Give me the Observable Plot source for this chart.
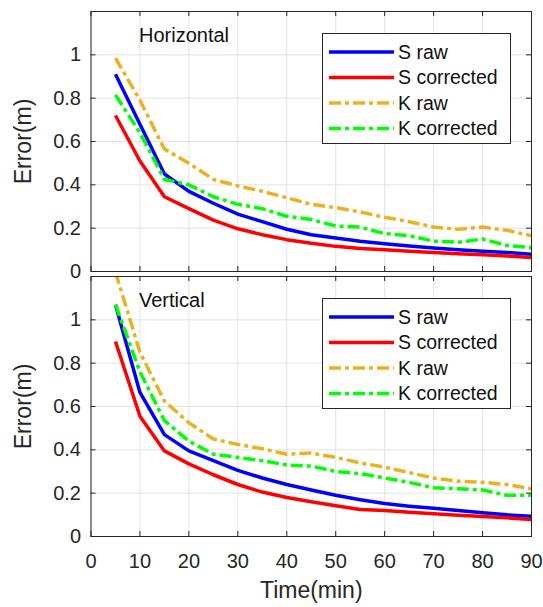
<!DOCTYPE html>
<html>
<head>
<meta charset="utf-8">
<script src="https://cdn.jsdelivr.net/npm/d3@7"></script>
<script src="https://cdn.jsdelivr.net/npm/@observablehq/plot@0.6"></script>
<style>
  body { margin: 0; background: white; }
  #wrap { position: relative; width: 543px; height: 607px; background: white; overflow: hidden; }
</style>
</head>
<body>
<div id="wrap"></div>
<script>
// ---- data ----
const times = [5, 10, 15, 20, 25, 30, 35, 40, 45, 50, 55, 60, 65, 70, 75, 80, 85, 90];
const seriesNames = ["S raw", "S corrected", "K raw", "K corrected"];

const hSraw = [0.91, 0.68, 0.45, 0.37, 0.315, 0.265, 0.23, 0.195, 0.17, 0.155, 0.14, 0.128, 0.118, 0.108, 0.10, 0.094, 0.088, 0.08];
const hScor = [0.72, 0.51, 0.345, 0.29, 0.237, 0.197, 0.17, 0.147, 0.13, 0.116, 0.106, 0.10, 0.094, 0.088, 0.082, 0.077, 0.072, 0.064];
const hKraw = [0.985, 0.79, 0.565, 0.50, 0.425, 0.395, 0.37, 0.34, 0.31, 0.295, 0.275, 0.25, 0.23, 0.205, 0.195, 0.205, 0.19, 0.165];
const hKcor = [0.815, 0.64, 0.425, 0.40, 0.345, 0.31, 0.29, 0.255, 0.24, 0.21, 0.205, 0.175, 0.165, 0.14, 0.135, 0.15, 0.12, 0.11];

const vSraw = [1.07, 0.665, 0.47, 0.395, 0.35, 0.305, 0.27, 0.24, 0.215, 0.19, 0.17, 0.152, 0.14, 0.13, 0.12, 0.11, 0.10, 0.093];
const vScor = [0.90, 0.555, 0.395, 0.335, 0.285, 0.24, 0.205, 0.18, 0.16, 0.142, 0.125, 0.12, 0.112, 0.105, 0.098, 0.092, 0.086, 0.078];
const vKraw = [1.22, 0.85, 0.625, 0.525, 0.45, 0.425, 0.405, 0.38, 0.385, 0.365, 0.34, 0.32, 0.295, 0.27, 0.255, 0.25, 0.24, 0.22];
const vKcor = [1.07, 0.76, 0.535, 0.44, 0.38, 0.365, 0.35, 0.33, 0.325, 0.30, 0.29, 0.27, 0.25, 0.225, 0.22, 0.215, 0.19, 0.19];

const xTicks = [0, 10, 20, 30, 40, 50, 60, 70, 80, 90];
const yTicks = [0, 0.2, 0.4, 0.6, 0.8, 1];
const panelTitles = ["Horizontal", "Vertical"];

// ---- styles ----
const colors = ["#0000ff", "#ff0000", "#edb120", "#00ff00"];
const dashes = [null, null, "12,4,4,4", "12,4,4,4"];
const FONT = "'Liberation Sans', Arial, Helvetica, sans-serif";
const INK = "#262626";
const GRID = "#e3e3e3";

const W = 543;
const ML = 90.5, MR = 12, MT = 11;
const FH = 260;               // frame height
const FW = W - ML - MR;       // frame width

function rows(values) {
  return times.map((t, i) => ({t, v: values[i]}));
}

function panel(valueSets, title, bottom) {
  const MB = bottom ? 71 : 14;
  const marks = [
    Plot.gridX(xTicks, {stroke: GRID, strokeOpacity: 1}),
    Plot.gridY(yTicks, {stroke: GRID, strokeOpacity: 1}),
  ];
  valueSets.forEach((vals, k) => {
    marks.push(Plot.line(rows(vals), {
      x: "t", y: "v", stroke: colors[k], strokeWidth: 3.5,
      strokeDasharray: dashes[k] || undefined, clip: true,
      strokeLinejoin: "round", strokeLinecap: "butt"
    }));
  });
  marks.push(
    Plot.frame({stroke: INK, strokeWidth: 1}),
    Plot.tickX(xTicks, {x: d => d, stroke: INK, insetTop: FH - 5}),
    Plot.tickX(xTicks, {x: d => d, stroke: INK, insetBottom: FH - 5}),
    Plot.tickY(yTicks, {y: d => d, stroke: INK, insetRight: FW - 5}),
    Plot.tickY(yTicks, {y: d => d, stroke: INK, insetLeft: FW - 5}),
    Plot.axisY(yTicks, {tickSize: 0, tickPadding: 10, fontSize: 20, fill: INK,
      tickFormat: d => String(+d.toFixed(1)), label: null}),
    Plot.text([title], {frameAnchor: "top-left", dx: 48, dy: 24, textAnchor: "start",
      lineAnchor: "middle", fontSize: 20, fill: "#111"}),
    Plot.text(["Error(m)"], {frameAnchor: "left", dx: -67, rotate: -90, textAnchor: "middle",
      lineAnchor: "middle", fontSize: 23, fill: INK})
  );
  if (bottom) {
    marks.push(
      Plot.axisX(xTicks, {tickSize: 0, tickPadding: 17, fontSize: 20, fill: INK, label: null}),
      Plot.text(["Time(min)"], {frameAnchor: "bottom", dy: 54, textAnchor: "middle",
        lineAnchor: "middle", fontSize: 23, fill: INK})
    );
  }
  return Plot.plot({
    width: W, height: MT + FH + MB,
    marginLeft: ML, marginRight: MR, marginTop: MT, marginBottom: MB,
    x: {domain: [0, 90], axis: null},
    y: {domain: [0, 1.2], axis: null},
    style: {fontFamily: FONT, background: "transparent", color: INK, overflow: "visible"},
    marks
  });
}

function legend(topPx) {
  const w = 189, h = 111;
  const svg = d3.create("svg").attr("width", w).attr("height", h)
    .style("position", "absolute").style("left", "321.5px").style("top", topPx + "px");
  svg.append("rect").attr("x", 0.5).attr("y", 0.5).attr("width", w - 1).attr("height", h - 1)
    .attr("fill", "white").attr("stroke", INK).attr("stroke-width", 1);
  seriesNames.forEach((name, k) => {
    const y = 19 + k * 25.5;
    const ln = svg.append("line").attr("x1", 7).attr("x2", 72).attr("y1", y).attr("y2", y)
      .attr("stroke", colors[k]).attr("stroke-width", 3.5);
    if (dashes[k]) ln.attr("stroke-dasharray", dashes[k]);
    svg.append("text").attr("x", 76).attr("y", y).attr("dy", "0.35em")
      .attr("font-family", FONT).attr("font-size", 19.5).attr("fill", "#111").text(name);
  });
  return svg.node();
}

const wrap = document.getElementById("wrap");
const botPanel = panel([vSraw, vScor, vKraw, vKcor], panelTitles[1], true);
botPanel.style.position = "absolute"; botPanel.style.left = "0px"; botPanel.style.top = "265px";
const topPanel = panel([hSraw, hScor, hKraw, hKcor], panelTitles[0], false);
topPanel.style.position = "absolute"; topPanel.style.left = "0px"; topPanel.style.top = "0px";
wrap.appendChild(botPanel);
wrap.appendChild(topPanel);
wrap.appendChild(legend(33));
wrap.appendChild(legend(298));
</script>
</body>
</html>
